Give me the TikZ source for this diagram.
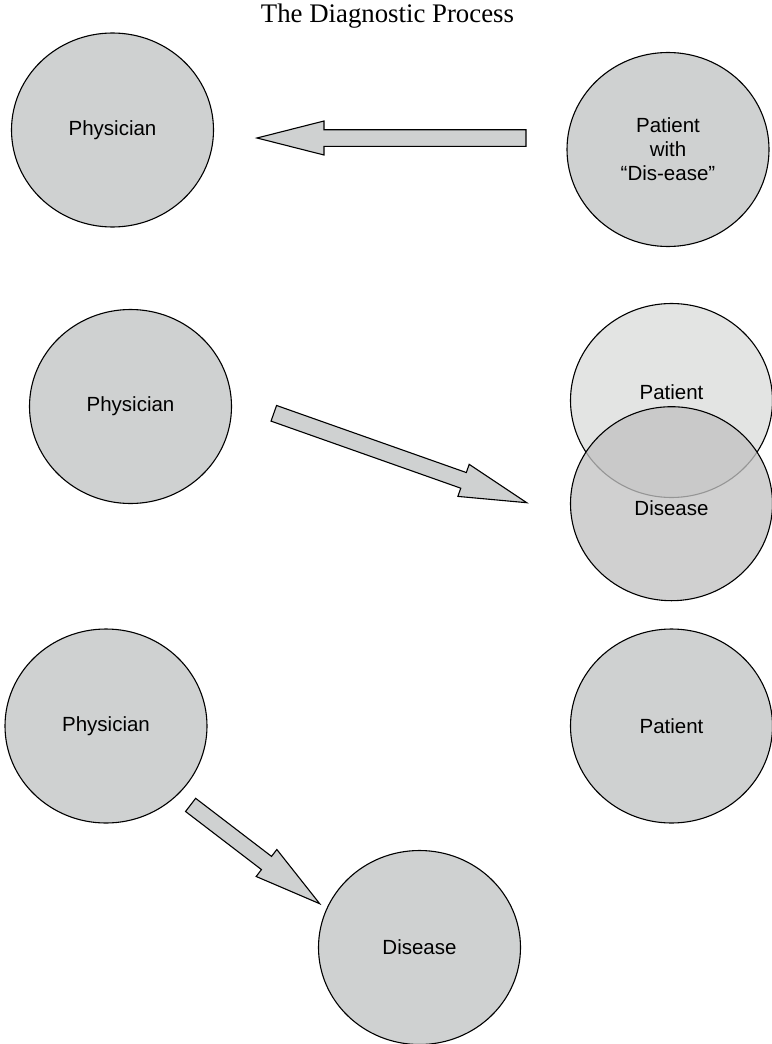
\documentclass[tikz,border=0pt]{standalone}
\usepackage{fontspec}
\setmainfont{Liberation Serif}
\newfontfamily\labelfont{Liberation Sans}
\usetikzlibrary{shapes.geometric,calc}

\definecolor{discfill}{RGB}{207,209,209}
\definecolor{lightfill}{RGB}{227,228,227}
\definecolor{overfill}{RGB}{194,194,194}

\tikzset{
  disc/.style={ellipse, draw=black, line width=1.1pt, fill=discfill,
    minimum width=202pt, minimum height=194pt, inner sep=0pt,
    align=center, font=\labelfont\fontsize{20.5}{24}\selectfont},
  arrowbody/.style={draw=black, line width=1.1pt, fill=discfill, line join=miter},
  titletext/.style={font=\fontsize{26.8}{31}\selectfont, anchor=base}
}

% block arrow from tail coordinate #1 to tip coordinate #2
\newcommand\drawblockarrow[2]{%
  \coordinate (ba-h) at ($(#2)!67pt!(#1)$);
  \draw[arrowbody]
    ($(#1)!8.3pt!90:(#2)$) -- ($(ba-h)!8.3pt!90:(#2)$) -- ($(ba-h)!17pt!90:(#2)$)
    -- (#2)
    -- ($(ba-h)!17pt!-90:(#2)$) -- ($(ba-h)!8.3pt!-90:(#2)$) -- ($(#1)!8.3pt!-90:(#2)$)
    -- cycle;}

\begin{document}
\begin{tikzpicture}[x=1pt, y=-1pt]
  \useasboundingbox (0,0) rectangle (771,1044);

  \node[titletext] (title) at (387.5,23) {The Diagnostic Process};

  % first stage
  \node[disc] (phys1) at (112.5,130) {Physician};
  \node[disc] (pat1) at (668,149.5) {Patient\\with\\“Dis-ease”};
  \coordinate (a1tail) at (526,138);
  \coordinate (a1tip) at (257,138);
  \drawblockarrow{a1tail}{a1tip}

  % second stage
  \node[disc] (phys2) at (130.5,406.5) {Physician};
  \node[disc, fill=lightfill,
        label={[yshift=8.5pt, font=\labelfont\fontsize{20.5}{24}\selectfont]center:Patient}]
        (pat2) at (671.5,400.5) {};
  \node[disc, fill=overfill, fill opacity=0.773, text opacity=1,
        label={[yshift=-4pt, font=\labelfont\fontsize{20.5}{24}\selectfont]center:Disease}]
        (dis2) at (671.5,503.7) {};
  \coordinate (a2tail) at (273.8,413.3);
  \coordinate (a2tip) at (526.7,502.7);
  \drawblockarrow{a2tail}{a2tip}

  % third stage
  \node[disc] (phys3) at (106,726) {Physician};
  \node[disc] (pat3) at (671.5,726) {Patient};
  \node[disc] (dis3) at (419.5,947.5) {Disease};
  \coordinate (a3tail) at (190.6,804.9);
  \coordinate (a3tip) at (319.7,903.7);
  \drawblockarrow{a3tail}{a3tip}
\end{tikzpicture}
\end{document}
